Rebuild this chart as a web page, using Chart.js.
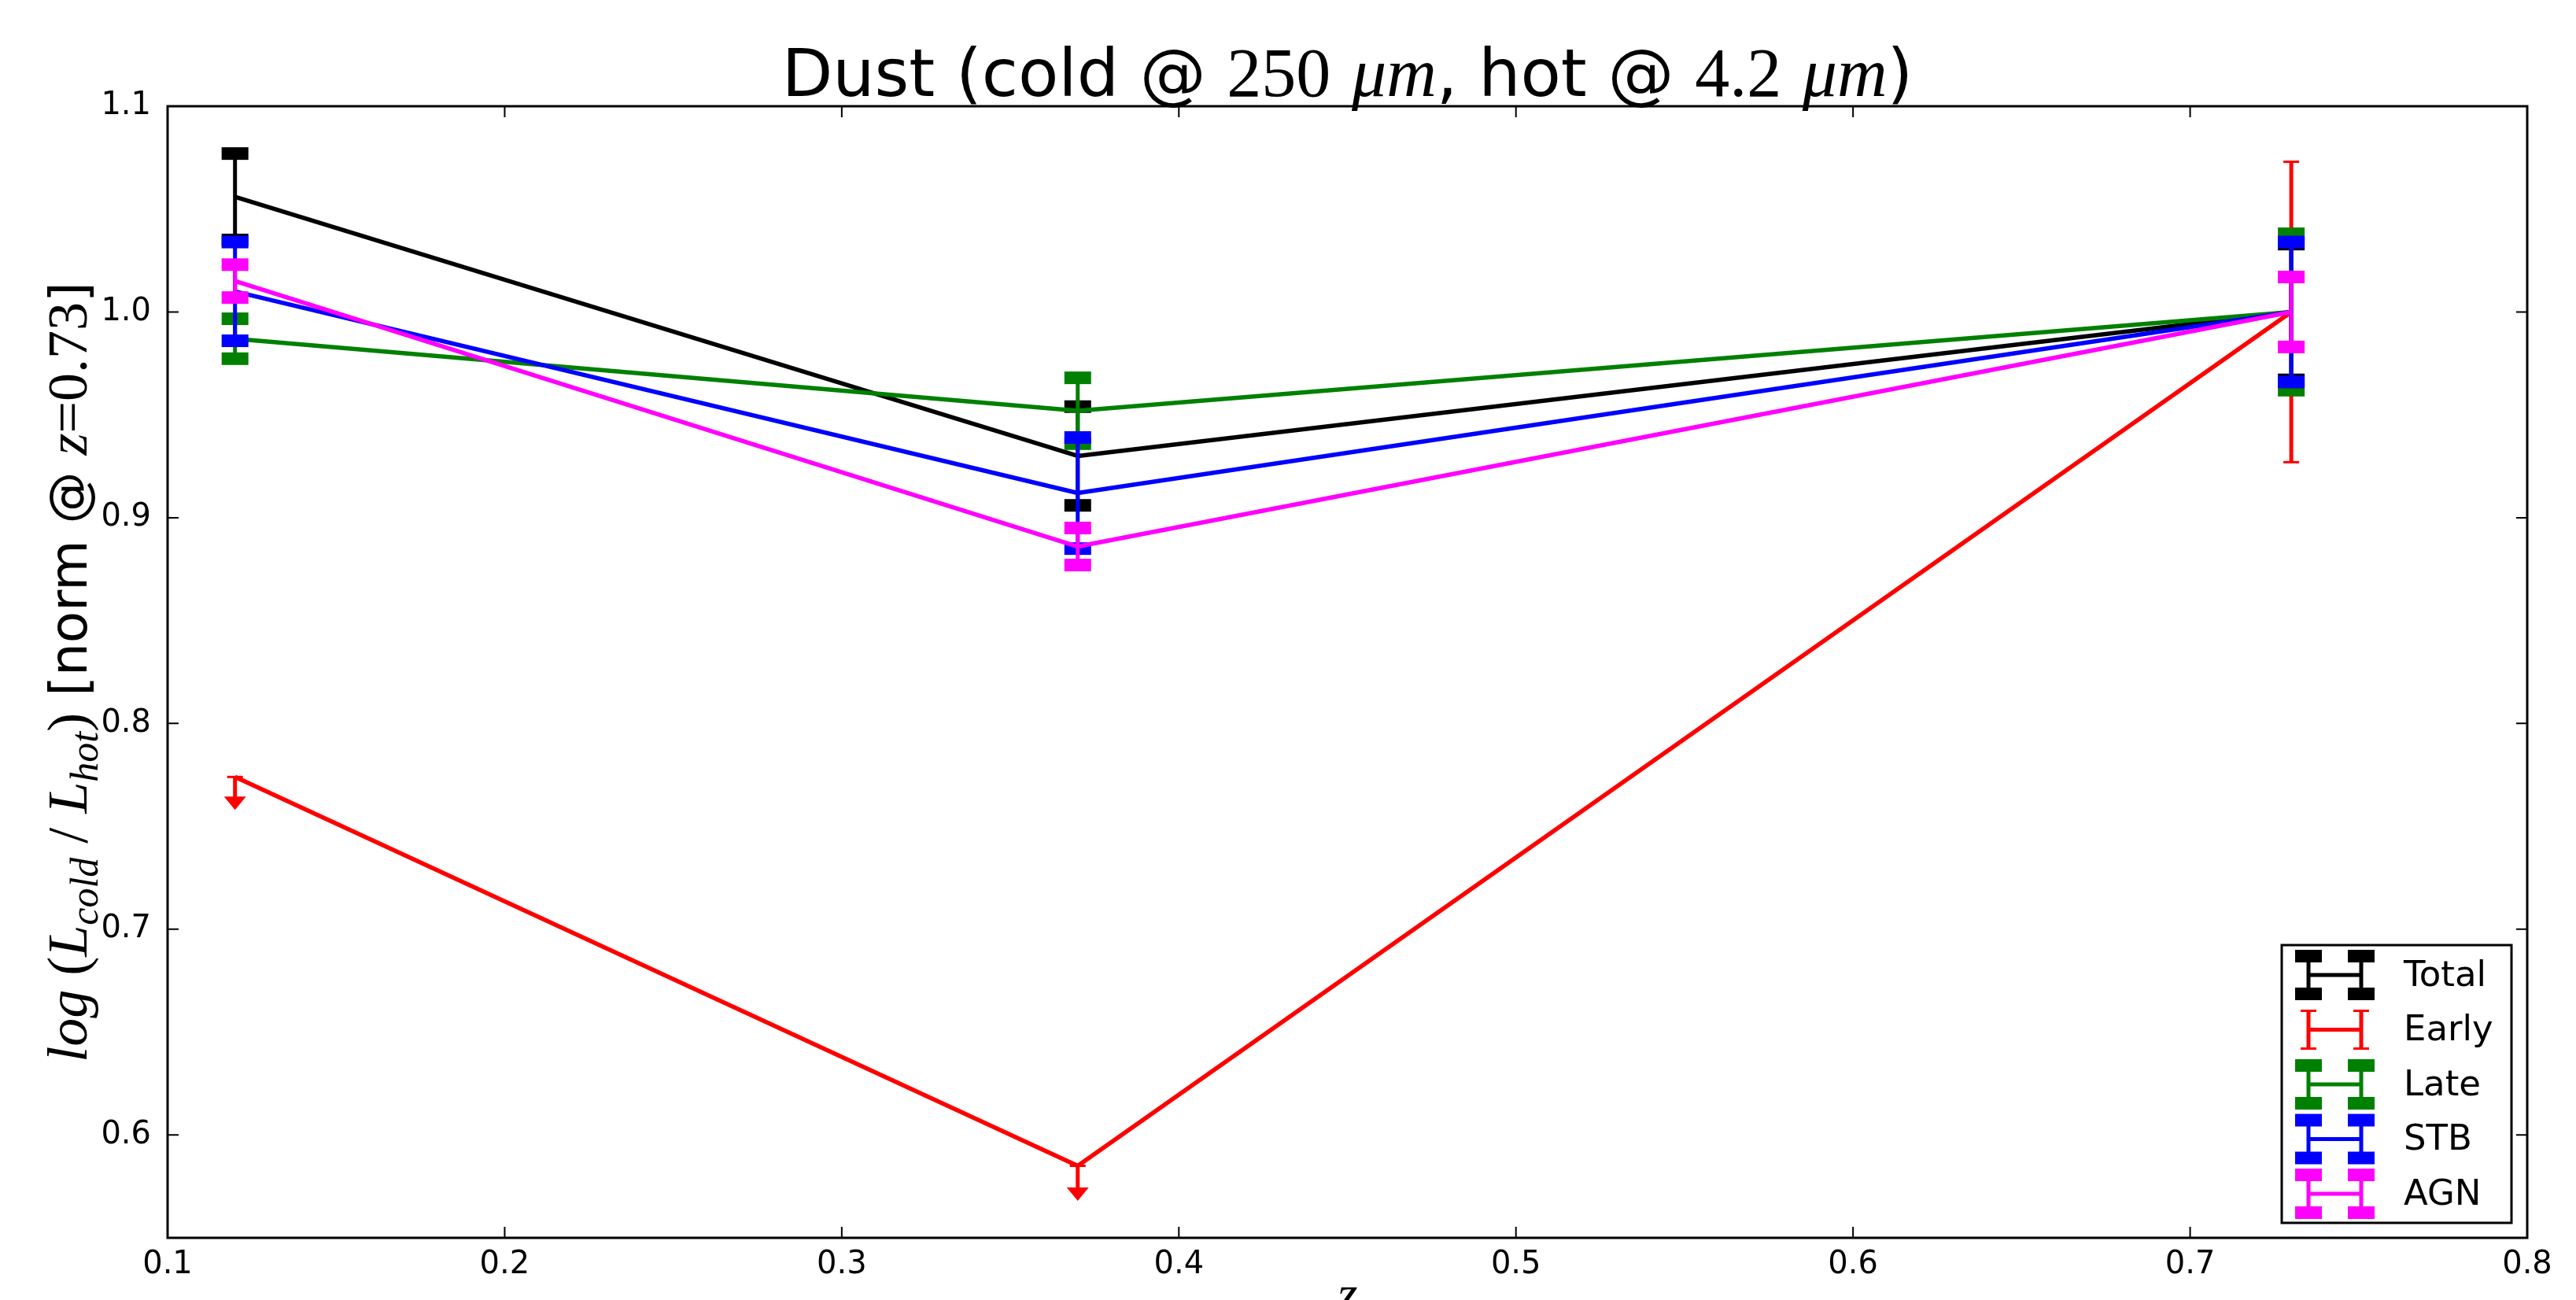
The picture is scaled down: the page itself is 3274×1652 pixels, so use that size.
<!DOCTYPE html>
<html>
<head>
<meta charset="utf-8">
<script src="https://cdn.jsdelivr.net/npm/chart.js@4.4.0/dist/chart.umd.min.js"></script>
<style>
html, body { margin: 0; padding: 0; background: #fff; }
#wrap { width: 3274px; height: 1652px; }
</style>
</head>
<body>
<div id="wrap"><canvas id="chart" width="3274" height="1652"></canvas></div>
<script>
// redshift bins
const z = [0.12, 0.37, 0.73];

// log(Lcold/Lhot), normalised at z=0.73
const total = [1.056, 0.930, 1.0];
const totalErr = [0.021, 0.024, 0.033];
const early = [0.774, 0.585, 1.0];
const earlyErr = [0.016, 0.017, 0.073];
const earlyUpperLimit = [true, true, false];
const late = [0.987, 0.952, 1.0];
const lateErr = [0.0097, 0.016, 0.038];
const stb = [1.010, 0.912, 1.0];
const stbErr = [0.024, 0.027, 0.034];
const agn = [1.015, 0.886, 1.0];
const agnErr = [0.008, 0.009, 0.017];

const seriesNames = ['Total', 'Early', 'Late', 'STB', 'AGN'];
const xTicks = [0.1, 0.2, 0.3, 0.4, 0.5, 0.6, 0.7, 0.8];
const yTicks = [0.6, 0.7, 0.8, 0.9, 1.0, 1.1];

const series = [
    { name: seriesNames[0], y: total, err: totalErr, color: '#000000', thick: true },
    { name: seriesNames[1], y: early, err: earlyErr, upper: earlyUpperLimit, color: '#ff0000', thick: false },
    { name: seriesNames[2], y: late, err: lateErr, color: '#008000', thick: true },
    { name: seriesNames[3], y: stb, err: stbErr, color: '#0000ff', thick: true },
    { name: seriesNames[4], y: agn, err: agnErr, color: '#ff00ff', thick: true }
];

const SANS = '"DejaVu Sans"';
const SERIF = '"Liberation Serif"';

function cap(ctx, s, px, py) {
    if (s.thick) {
        ctx.fillStyle = s.color;
        ctx.fillRect(px - 17, py - 8, 34, 16);
    } else {
        ctx.strokeStyle = s.color;
        ctx.lineWidth = 3;
        ctx.beginPath(); ctx.moveTo(px - 10, py); ctx.lineTo(px + 10, py); ctx.stroke();
    }
}

function drawErrorBars(chart, s) {
    const ctx = chart.ctx, xs = chart.scales.x, ys = chart.scales.y;
    ctx.save();
    ctx.lineCap = 'butt';
    z.forEach((zv, i) => {
        const px = xs.getPixelForValue(zv);
        ctx.strokeStyle = s.color;
        ctx.fillStyle = s.color;
        ctx.lineWidth = 5;
        if (s.upper && s.upper[i]) {
            const py = ys.getPixelForValue(s.y[i]);
            const pb = ys.getPixelForValue(s.y[i] - s.err[i]);
            ctx.beginPath(); ctx.moveTo(px, py); ctx.lineTo(px, pb - 14); ctx.stroke();
            ctx.beginPath();
            ctx.moveTo(px - 14, pb - 17); ctx.lineTo(px + 14, pb - 17); ctx.lineTo(px, pb);
            ctx.closePath(); ctx.fill();
            cap(ctx, s, px, py);
        } else {
            const pt = ys.getPixelForValue(s.y[i] + s.err[i]);
            const pb = ys.getPixelForValue(s.y[i] - s.err[i]);
            ctx.beginPath(); ctx.moveTo(px, pt); ctx.lineTo(px, pb); ctx.stroke();
            cap(ctx, s, px, pt);
            cap(ctx, s, px, pb);
        }
    });
    ctx.restore();
}

// draws a run of text pieces in different fonts, centred on cx
function richText(ctx, segs, cx, by) {
    let w = 0;
    segs.forEach(p => { ctx.font = p.f; p.w = ctx.measureText(p.t).width; w += p.w; });
    let x = cx - w / 2;
    ctx.textAlign = 'left';
    ctx.textBaseline = 'alphabetic';
    segs.forEach(p => { ctx.font = p.f; ctx.fillText(p.t, x, by + (p.dy || 0)); x += p.w; });
}

const decor = {
    id: 'decor',
    afterDatasetDraw(chart, args) {
        drawErrorBars(chart, series[args.index]);
    },
    afterDraw(chart) {
        const ctx = chart.ctx, a = chart.chartArea;
        const xs = chart.scales.x, ys = chart.scales.y;
        ctx.save();
        // frame
        ctx.strokeStyle = '#000';
        ctx.lineWidth = 3;
        ctx.strokeRect(a.left, a.top, a.right - a.left, a.bottom - a.top);
        // inward ticks on all four sides
        ctx.lineWidth = 2;
        ctx.beginPath();
        xTicks.forEach(v => {
            const px = xs.getPixelForValue(v);
            ctx.moveTo(px, a.bottom); ctx.lineTo(px, a.bottom - 14);
            ctx.moveTo(px, a.top); ctx.lineTo(px, a.top + 14);
        });
        yTicks.forEach(v => {
            const py = ys.getPixelForValue(v);
            ctx.moveTo(a.left, py); ctx.lineTo(a.left + 14, py);
            ctx.moveTo(a.right, py); ctx.lineTo(a.right - 14, py);
        });
        ctx.stroke();

        ctx.fillStyle = '#000';
        const cx = (a.left + a.right) / 2;
        // title
        richText(ctx, [
            { t: 'Dust (cold @ ', f: '84px ' + SANS },
            { t: '250', f: '88px ' + SERIF },
            { t: ' ', f: '84px ' + SANS },
            { t: '\u03bcm', f: 'italic 88px ' + SERIF },
            { t: ', hot @ ', f: '84px ' + SANS },
            { t: '4.2', f: '88px ' + SERIF },
            { t: ' ', f: '84px ' + SANS },
            { t: '\u03bcm', f: 'italic 88px ' + SERIF },
            { t: ')', f: '84px ' + SANS }
        ], cx, 122);

        // x label
        richText(ctx, [{ t: 'z', f: 'italic 66px ' + SERIF }], cx, 1666);

        // y label
        ctx.save();
        ctx.translate(110, (a.top + a.bottom) / 2);
        ctx.rotate(-Math.PI / 2);
        richText(ctx, [
            { t: 'log', f: 'italic 72px ' + SERIF },
            { t: ' (', f: '72px ' + SERIF },
            { t: 'L', f: 'italic 72px ' + SERIF },
            { t: 'cold', f: 'italic 50px ' + SERIF, dy: 14 },
            { t: ' / ', f: '72px ' + SERIF },
            { t: 'L', f: 'italic 72px ' + SERIF },
            { t: 'hot', f: 'italic 50px ' + SERIF, dy: 14 },
            { t: ')', f: '72px ' + SERIF },
            { t: ' [norm @ ', f: '66px ' + SANS },
            { t: 'z', f: 'italic 72px ' + SERIF },
            { t: '=', f: '72px ' + SERIF },
            { t: '0.73', f: '72px ' + SERIF },
            { t: ']', f: '66px ' + SANS }
        ], 0, 0);
        ctx.restore();

        // legend
        const lx = 2900, ly = 1201, lw = 292, lh = 353;
        ctx.fillStyle = '#fff';
        ctx.fillRect(lx, ly, lw, lh);
        ctx.strokeStyle = '#000';
        ctx.lineWidth = 3;
        ctx.strokeRect(lx, ly, lw, lh);
        series.forEach((s, k) => {
            const cy = 1239 + k * 69.5;
            ctx.strokeStyle = s.color;
            ctx.lineWidth = 5;
            ctx.beginPath();
            ctx.moveTo(2934, cy); ctx.lineTo(3001, cy);
            ctx.moveTo(2934, cy - 24); ctx.lineTo(2934, cy + 24);
            ctx.moveTo(3001, cy - 24); ctx.lineTo(3001, cy + 24);
            ctx.stroke();
            [2934, 3001].forEach(bx => { cap(ctx, s, bx, cy - 24); cap(ctx, s, bx, cy + 24); });
            ctx.fillStyle = '#000';
            ctx.font = '45px ' + SANS;
            ctx.textAlign = 'left';
            ctx.textBaseline = 'middle';
            ctx.fillText(s.name, 3055, cy + 2);
        });
        ctx.restore();
    }
};

new Chart(document.getElementById('chart'), {
    type: 'line',
    data: {
        datasets: series.map((s, k) => ({
            label: s.name,
            data: z.map((zv, i) => ({ x: zv, y: s.y[i] })),
            borderColor: s.color,
            backgroundColor: s.color,
            borderWidth: 5.5,
            borderJoinStyle: 'round',
            pointRadius: 0,
            tension: 0,
            fill: false,
            order: series.length - k
        }))
    },
    options: {
        responsive: false,
        animation: false,
        layout: { padding: { left: 0, right: 62, top: 135, bottom: 0 } },
        plugins: { legend: { display: false }, tooltip: { enabled: false }, title: { display: false } },
        scales: {
            x: {
                type: 'linear', min: 0.1, max: 0.8,
                grid: { display: false, drawTicks: false },
                border: { display: false },
                afterBuildTicks: sc => { sc.ticks = xTicks.map(v => ({ value: v })); },
                afterFit: sc => { sc.height = 79; },
                ticks: {
                    autoSkip: false, maxRotation: 0, padding: 11, color: '#000',
                    font: { family: 'DejaVu Sans', size: 40 },
                    callback: v => v.toFixed(1)
                }
            },
            y: {
                type: 'linear', min: 0.55, max: 1.1,
                grid: { display: false, drawTicks: false },
                border: { display: false },
                afterBuildTicks: sc => { sc.ticks = yTicks.map(v => ({ value: v })); },
                afterFit: sc => { sc.width = 213; },
                ticks: {
                    autoSkip: false, padding: 21, color: '#000',
                    font: { family: 'DejaVu Sans', size: 40 },
                    callback: v => v.toFixed(1)
                }
            }
        }
    },
    plugins: [decor]
});
</script>
</body>
</html>
